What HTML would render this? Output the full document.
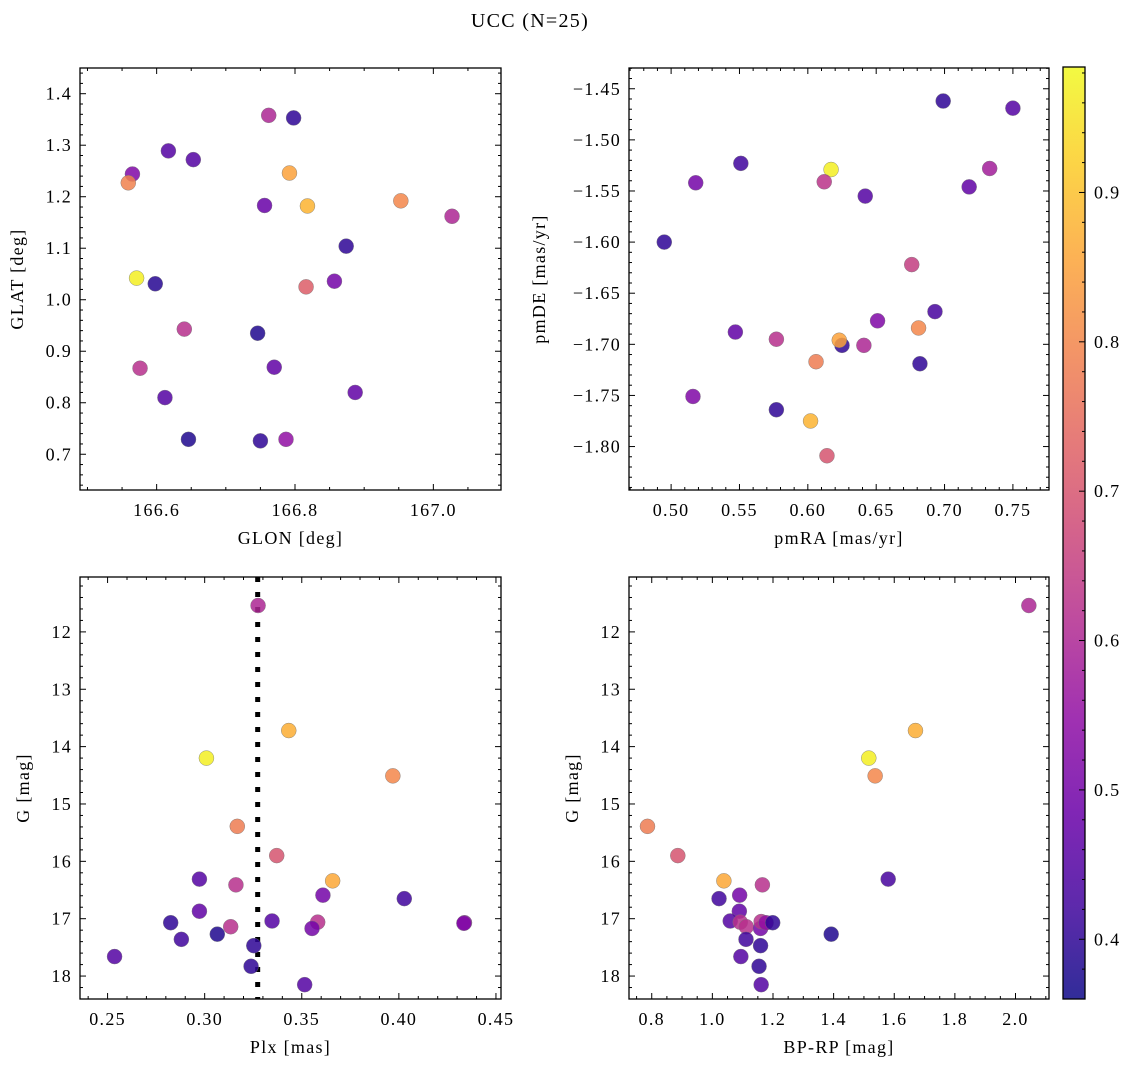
<!DOCTYPE html>
<html><head><meta charset="utf-8">
<style>
html,body{margin:0;padding:0;background:#fff;}
svg{display:block;font-family:"Liberation Serif",serif;}
svg text{letter-spacing:1.3px;}
</style></head>
<body>
<svg id="fig" width="1136" height="1067" viewBox="0 0 1136 1067" xmlns="http://www.w3.org/2000/svg">
<text x="530" y="27" font-size="20" text-anchor="middle">UCC (N=25)</text>
</svg>
<script>
// ---- Panel 1: GLON vs GLAT ----
const glon=[166.565,166.559,166.617,166.653,166.571,166.598,166.640,166.576,166.612,166.646,166.762,166.798,166.792,166.756,166.818,166.953,167.027,166.874,166.857,166.816,166.746,166.770,166.887,166.750,166.787];
const glat=[1.244,1.227,1.289,1.272,1.042,1.031,0.943,0.867,0.810,0.729,1.358,1.353,1.246,1.183,1.182,1.192,1.162,1.104,1.036,1.025,0.935,0.869,0.820,0.726,0.729];
const prob1=[0.52,0.79,0.45,0.45,0.97,0.39,0.62,0.62,0.45,0.38,0.60,0.40,0.85,0.48,0.88,0.80,0.60,0.40,0.50,0.72,0.38,0.47,0.47,0.40,0.55];
// ---- Panel 2: pmRA vs pmDE ----
const pmra=[0.699,0.750,0.551,0.518,0.617,0.612,0.642,0.718,0.733,0.495,0.676,0.693,0.651,0.681,0.547,0.577,0.625,0.623,0.641,0.606,0.682,0.516,0.577,0.602,0.614];
const pmde=[-1.462,-1.469,-1.523,-1.542,-1.529,-1.541,-1.555,-1.546,-1.528,-1.600,-1.622,-1.668,-1.677,-1.684,-1.688,-1.695,-1.701,-1.696,-1.701,-1.717,-1.719,-1.751,-1.764,-1.775,-1.809];
const prob2=[0.40,0.45,0.42,0.50,0.97,0.63,0.45,0.47,0.58,0.40,0.65,0.43,0.52,0.80,0.47,0.62,0.40,0.85,0.60,0.78,0.40,0.52,0.40,0.88,0.70];
// ---- Panel 3: Plx vs G ----
const plx=[0.3275,0.3433,0.3009,0.3969,0.3168,0.3371,0.2973,0.3161,0.3659,0.3609,0.4028,0.2973,0.2825,0.3347,0.3134,0.3582,0.3553,0.4338,0.4335,0.2880,0.3065,0.3253,0.2536,0.3239,0.3515];
const gmag3=[11.54,13.72,14.20,14.51,15.39,15.90,16.31,16.41,16.34,16.59,16.65,16.87,17.07,17.04,17.14,17.06,17.17,17.07,17.08,17.36,17.27,17.47,17.66,17.83,18.15];
const prob3=[0.60,0.87,0.97,0.80,0.78,0.70,0.45,0.62,0.86,0.50,0.42,0.47,0.40,0.45,0.62,0.62,0.50,0.55,0.52,0.42,0.38,0.40,0.45,0.40,0.45];
const plxLine=[0.3273];
// ---- Panel 4: BP-RP vs G ----
const bprp=[2.044,1.670,1.516,1.537,0.786,0.886,1.580,1.038,1.165,1.090,1.022,1.089,1.059,1.092,1.112,1.159,1.161,1.177,1.199,1.392,1.111,1.159,1.094,1.154,1.161];
const gmag4=[11.54,13.72,14.20,14.51,15.39,15.90,16.31,16.34,16.41,16.59,16.65,16.87,17.04,17.06,17.14,17.17,17.05,17.07,17.07,17.27,17.36,17.47,17.66,17.83,18.15];
const prob4=[0.60,0.87,0.97,0.80,0.78,0.70,0.43,0.86,0.62,0.50,0.42,0.47,0.45,0.62,0.62,0.50,0.62,0.55,0.40,0.38,0.42,0.40,0.45,0.40,0.45];
// ---- Tick labels ----
const ticks1x=[166.6,166.8,167.0], ticks1y=[0.7,0.8,0.9,1.0,1.1,1.2,1.3,1.4];
const ticks2x=[0.50,0.55,0.60,0.65,0.70,0.75], ticks2y=[-1.80,-1.75,-1.70,-1.65,-1.60,-1.55,-1.50,-1.45];
const ticks3x=[0.25,0.30,0.35,0.40,0.45], ticksG=[12,13,14,15,16,17,18];
const ticks4x=[0.8,1.0,1.2,1.4,1.6,1.8,2.0];
const ticksCb=[0.4,0.5,0.6,0.7,0.8,0.9];
const cmin=0.360, cmax=0.984;

const NS="http://www.w3.org/2000/svg";
const svg=document.getElementById('fig');
const FS=18;
function mk(tag,attrs,parent){const e=document.createElementNS(NS,tag);for(const k in attrs)e.setAttribute(k,attrs[k]);(parent||svg).appendChild(e);return e;}
const stops=[[0,13,8,135],[0.1,65,4,157],[0.2,106,0,168],[0.3,143,13,164],[0.4,177,42,144],[0.5,204,71,120],[0.6,225,100,98],[0.7,242,132,75],[0.8,252,166,54],[0.9,252,206,37],[1,240,249,33]];
function plasma(t){t=Math.max(0,Math.min(1,t));for(let i=1;i<stops.length;i++){if(t<=stops[i][0]){const a=stops[i-1],b=stops[i];const f=(t-a[0])/(b[0]-a[0]);return 'rgb('+[1,2,3].map(j=>Math.round(a[j]+(b[j]-a[j])*f)).join(',')+')';}}return 'rgb(240,249,33)';}
function cval(v){return plasma((v-cmin)/(cmax-cmin));}
function fmt(v,d){let s=v.toFixed(d);if(v<0)s='\u2212'+s.slice(1);return s;}

function panel(o){
  const g=mk('g',{});
  
  
  const X=v=>o.L+(v-o.x0)/(o.x1-o.x0)*(o.R-o.L);
  const Y=o.yinv?(v=>o.T+(v-o.y0)/(o.y1-o.y0)*(o.B-o.T)):(v=>o.B-(v-o.y0)/(o.y1-o.y0)*(o.B-o.T));
  const tg=mk('g',{stroke:'#000','stroke-width':1},g);
  
  
  const lo=Math.min(o.x0,o.x1),hi=Math.max(o.x0,o.x1);
  for(let k=Math.ceil(lo/o.xmin-1e-6);k*o.xmin<=hi+1e-9;k++){const v=k*o.xmin;const px=X(v);const maj=Math.abs(v/o.xmaj-Math.round(v/o.xmaj))<1e-6;const l=maj?6:3;
    mk('line',{x1:px,x2:px,y1:o.B,y2:o.B-l},tg);mk('line',{x1:px,x2:px,y1:o.T,y2:o.T+l},tg);}
  const ylo=Math.min(o.y0,o.y1),yhi=Math.max(o.y0,o.y1);
  for(let k=Math.ceil(ylo/o.ymin-1e-6);k*o.ymin<=yhi+1e-9;k++){const v=k*o.ymin;const py=Y(v);const maj=Math.abs(v/o.ymaj-Math.round(v/o.ymaj))<1e-6;const l=maj?6:3;
    mk('line',{y1:py,y2:py,x1:o.L,x2:o.L+l},tg);mk('line',{y1:py,y2:py,x1:o.R,x2:o.R-l},tg);}
  o.xt.forEach(v=>{const t=mk('text',{x:X(v),y:o.B+26,'font-size':FS,'text-anchor':'middle'},g);t.textContent=fmt(v,o.xd);
    
    });
  o.yt.forEach(v=>{const t=mk('text',{x:o.L-8,y:Y(v)+6,'font-size':FS,'text-anchor':'end'},g);t.textContent=fmt(v,o.yd);
    
    });
  const xl=mk('text',{x:(o.L+o.R)/2,y:o.B+54,'font-size':FS,'text-anchor':'middle'},g);xl.textContent=o.xlabel;
  
  
  const yx=o.ylx,yy=(o.T+o.B)/2;
  const yl=mk('text',{x:yx,y:yy,'font-size':FS,'text-anchor':'middle',transform:'rotate(-90 '+yx+' '+yy+')'},g);yl.textContent=o.ylabel;
  
  
  if(o.vline){o.vline.forEach(v=>{const ln=mk('line',{x1:X(v),x2:X(v),y1:o.T,y2:o.B,stroke:'#000','stroke-width':5,'stroke-dasharray':'5 10'},g);
    
    });}
  o.xs.forEach((xv,i)=>{const c=mk('circle',{cx:X(xv),cy:Y(o.ys[i]),r:7.5,fill:cval(o.cs[i]),'fill-opacity':0.85,stroke:'#777','stroke-width':0.5,'stroke-opacity':0.8},g);
    
    });
  const fr=mk('rect',{x:o.L,y:o.T,width:o.R-o.L,height:o.B-o.T,fill:'none',stroke:'#000','stroke-width':1.3},g);
  
  
}

panel({name:'glon-glat-panel',L:80,R:501,T:68,B:490,x0:166.4892,x1:167.0978,y0:0.6306,y1:1.4499,xmaj:0.2,xmin:0.05,ymaj:0.1,ymin:0.02,xt:ticks1x,yt:ticks1y,xd:1,yd:1,xlabel:'GLON [deg]',ylabel:'GLAT [deg]',ylx:23,xs:glon,ys:glat,cs:prob1});
panel({name:'pm-panel',L:629,R:1049,T:68,B:490,x0:0.4692,x1:0.7764,y0:-1.8425,y1:-1.4297,xmaj:0.05,xmin:0.01,ymaj:0.05,ymin:0.01,xt:ticks2x,yt:ticks2y,xd:2,yd:2,xlabel:'pmRA [mas/yr]',ylabel:'pmDE [mas/yr]',ylx:545,xs:pmra,ys:pmde,cs:prob2});
panel({name:'plx-g-panel',L:80,R:501,T:577,B:999,x0:0.2358,x1:0.4526,y0:11.043,y1:18.40,yinv:true,xmaj:0.05,xmin:0.01,ymaj:1,ymin:0.2,xt:ticks3x,yt:ticksG,xd:2,yd:0,xlabel:'Plx [mas]',ylabel:'G [mag]',ylx:29,xs:plx,ys:gmag3,cs:prob3,vline:plxLine});
panel({name:'cmd-panel',L:629,R:1049,T:577,B:999,x0:0.725,x1:2.1105,y0:11.043,y1:18.40,yinv:true,xmaj:0.2,xmin:0.05,ymaj:1,ymin:0.2,xt:ticks4x,yt:ticksG,xd:1,yd:0,xlabel:'BP-RP [mag]',ylabel:'G [mag]',ylx:578,xs:bprp,ys:gmag4,cs:prob4});

(function(){
  const L=1063,R=1085,T=67,B=999;
  const g=mk('g',{});
  
  
  const defs=mk('defs',{},g);
  const lg=mk('linearGradient',{id:'cbg',x1:0,y1:1,x2:0,y2:0},defs);
  for(let i=0;i<=20;i++){const t=i/20;mk('stop',{offset:t,'stop-color':plasma(t)},lg);}
  mk('rect',{x:L,y:T,width:R-L,height:B-T,fill:'url(#cbg)','fill-opacity':0.85},g);
  const Y=v=>B-(v-cmin)/(cmax-cmin)*(B-T);
  for(let k=Math.ceil(cmin/0.02-1e-6);k*0.02<=cmax;k++){const v=k*0.02;const maj=Math.abs(v*10-Math.round(v*10))<1e-6;
    mk('line',{x1:R,x2:R-(maj?6:3),y1:Y(v),y2:Y(v),stroke:'#000','stroke-width':1},g);}
  ticksCb.forEach(v=>{const t=mk('text',{x:R+9,y:Y(v)+6,'font-size':FS},g);t.textContent=v.toFixed(1);
    
    });
  mk('rect',{x:L,y:T,width:R-L,height:B-T,fill:'none',stroke:'#000','stroke-width':1.3},g);
})();
</script>
</body></html>
